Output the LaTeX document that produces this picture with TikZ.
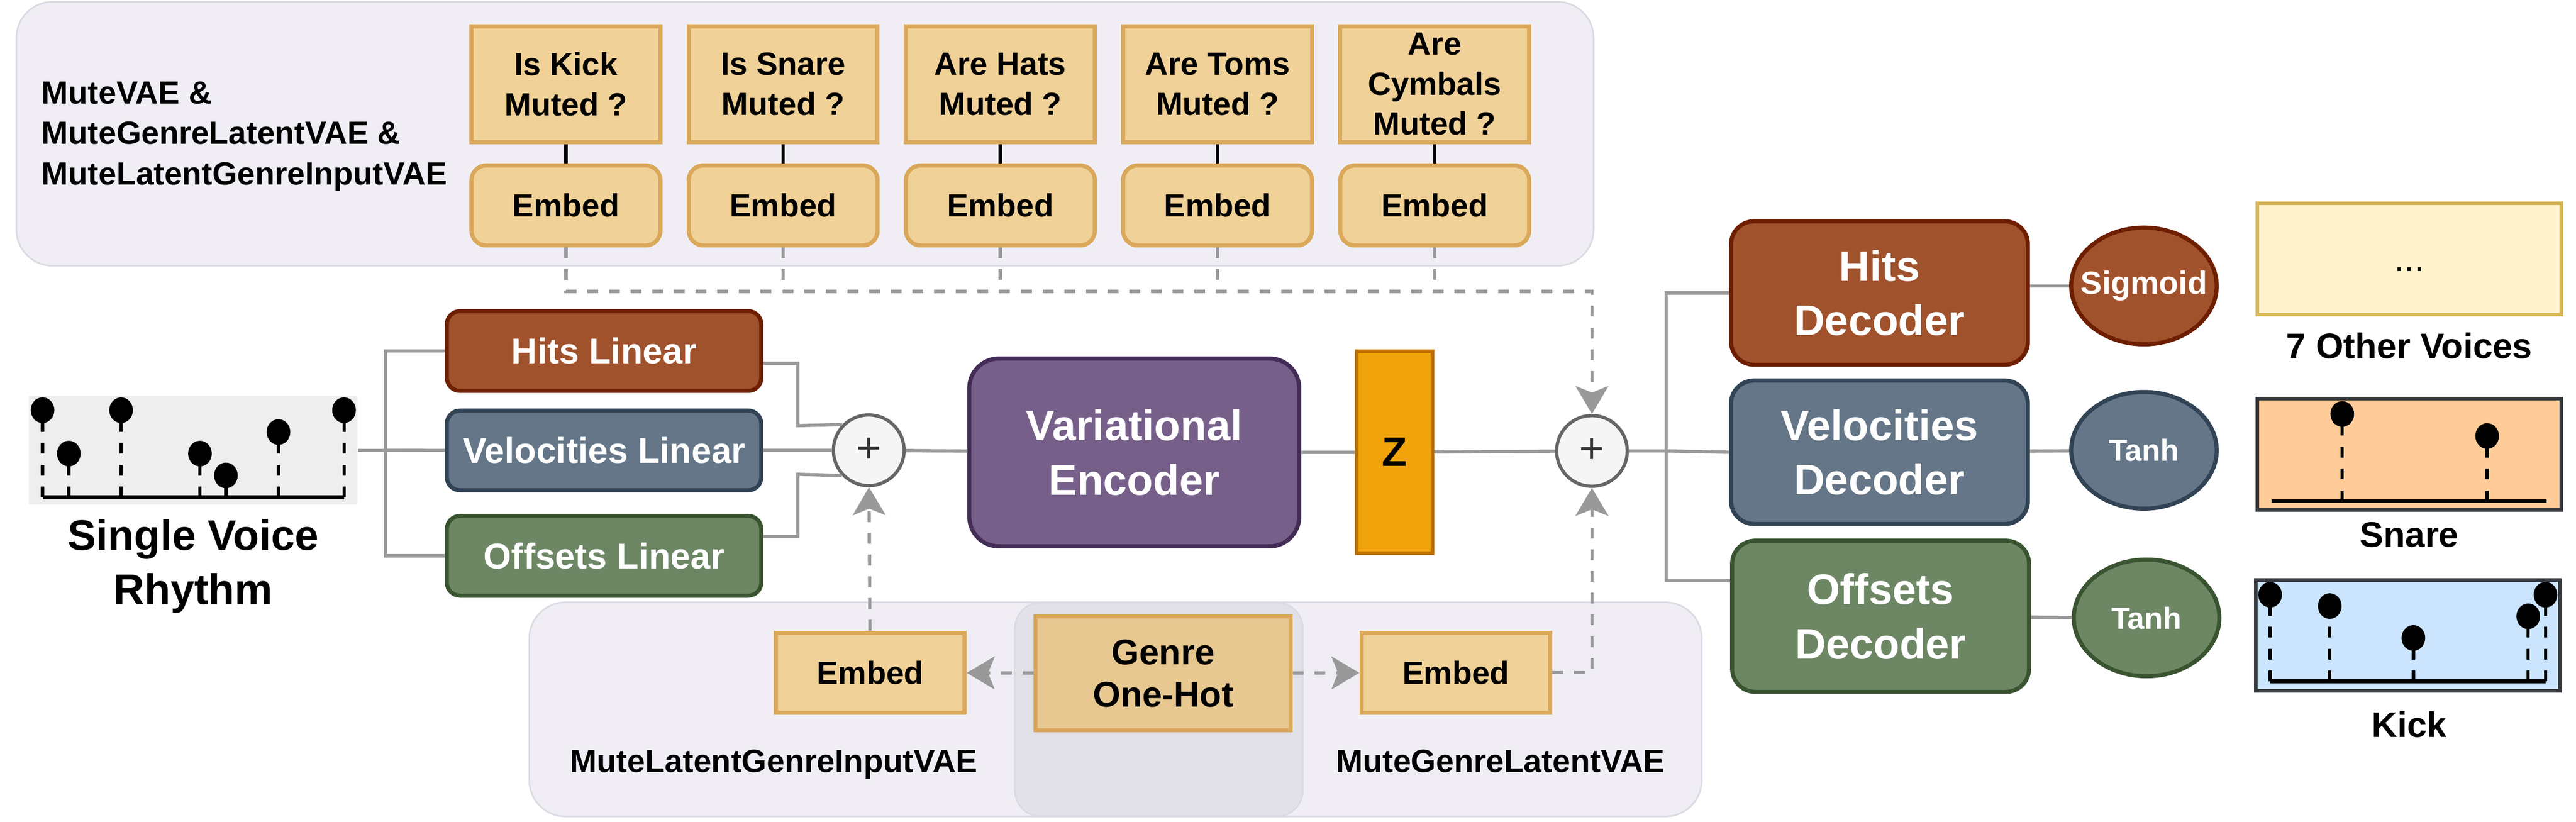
\documentclass[tikz,border=0pt]{standalone}
\usepackage{fontspec}
\setmainfont{Liberation Sans}
\usetikzlibrary{arrows.meta,shapes.geometric}
\definecolor{hitsfill}{HTML}{A0522D}
\definecolor{hitsline}{HTML}{6D1F00}
\definecolor{velfill}{HTML}{647687}
\definecolor{velline}{HTML}{314354}
\definecolor{offfill}{HTML}{6D8764}
\definecolor{offline}{HTML}{3A5431}
\definecolor{encfill}{HTML}{76608A}
\definecolor{encline}{HTML}{432D57}
\definecolor{zfill}{HTML}{F0A30A}
\definecolor{zline}{HTML}{BD7000}
\definecolor{embfill}{HTML}{F0D197}
\definecolor{embline}{HTML}{DAA85A}
\definecolor{genrefill}{HTML}{E8C891}
\definecolor{panelfill}{HTML}{F0EEF4}
\definecolor{panelline}{HTML}{DCDAE2}
\definecolor{colfill}{HTML}{E3E1E8}
\definecolor{connline}{HTML}{999999}
\definecolor{sumfill}{HTML}{F5F5F5}
\definecolor{sumline}{HTML}{666666}
\definecolor{sumtext}{HTML}{333333}
\definecolor{otherfill}{HTML}{FFF2CC}
\definecolor{otherline}{HTML}{D6B656}
\definecolor{snarefill}{HTML}{FFCC99}
\definecolor{kickfill}{HTML}{CCE5FF}
\definecolor{voiceline}{HTML}{36393D}
\definecolor{rhythmfill}{HTML}{EEEEEE}
\newcommand{\setfs}[2]{\fontsize{#1}{#2}\selectfont\bfseries}

\begin{document}
\begin{tikzpicture}[x=1pt, y=-1pt,
    every node/.style={inner sep=0pt, align=center},
    conn/.style={draw=connline, line width=2pt},
    dashln/.style={draw=connline, line width=2pt, dash pattern=on 6.6pt off 6.6pt},
    arrowhd/.style={-{Stealth[length=17pt,width=20pt,inset=4pt]}},
    stemln/.style={line width=2pt, dash pattern=on 6.6pt off 6.7pt},
    question/.style={draw=embline, fill=embfill, line width=2.5pt, minimum width=115pt, minimum height=70.7pt, font=\setfs{19.5}{24.3}},
    embedtop/.style={question, rounded corners=9pt, minimum height=48.7pt},
    embedbot/.style={question, minimum height=48.7pt},
    linear/.style={line width=2.5pt, rounded corners=8pt, minimum width=191.4pt, minimum height=48.5pt, text=white, font=\setfs{21.8}{26}},
    decoder/.style={line width=2.5pt, rounded corners=14pt, minimum width=180.7pt, minimum height=87.3pt, text=white, font=\setfs{26}{33}},
    act/.style={ellipse, line width=2.5pt, inner xsep=-18pt, inner ysep=-6pt, minimum width=88.6pt, minimum height=71pt, text=white, font=\setfs{19.5}{24}},
    sumnode/.style={circle, draw=sumline, fill=sumfill, line width=2pt, minimum size=43pt, text=sumtext, font=\fontsize{26}{30}\selectfont},
    voice/.style={line width=2.2pt, minimum width=185pt, minimum height=67.6pt},
    txt/.style={font=\setfs{21.6}{26}}]
    \useasboundingbox (0,0) rectangle (1568,500);
    % panels
    \filldraw[fill=panelfill, draw=panelline, line width=1pt, rounded corners=22pt] (10,1.1) rectangle (970,161.7);
    \filldraw[fill=panelfill, draw=panelline, line width=1pt, rounded corners=22pt] (322.2,366.5) rectangle (1035.8,496.8);
    \filldraw[fill=colfill, draw=panelline, line width=1pt, rounded corners=16pt] (617.7,366.6) rectangle (793,496.8);
    % mute flags
    \node[anchor=north west, align=left, font=\setfs{19.5}{24.5}] (mutelbl) at (25.2,49.6) {MuteVAE \&\\MuteGenreLatentVAE \&\\MuteLatentGenreInputVAE};
    \coordinate (bus) at (969,177.3);
    \foreach \q [count=\i] in {{Is Kick\\Muted ?},{Is Snare\\Muted ?},{Are Hats\\Muted ?},{Are Toms\\Muted ?},{Are\\Cymbals\\Muted ?}}{
        \node[question] (mute\i) at ({344.5+132.2*(\i-1)},51.2) {\q};
        \node[embedtop] (emb\i) at ({344.5+132.2*(\i-1)},125) {Embed};
        \draw[line width=2pt] (mute\i) -- (emb\i);
        \draw[dashln] (emb\i.south) -- (emb\i.south |- bus);
    }
    % single voice rhythm
    \node[fill=rhythmfill, minimum width=200.2pt, minimum height=66pt] (rhythm) at (117.6,274) {};
    \draw[line width=2.4pt] (25.9,302.7) -- (209.4,302.7);
    \foreach \x/\y in {25.9/249.6, 41.9/276, 73.7/249.6, 121.7/276, 137.5/289.3, 169.5/262.9, 209.4/249.6}{
        \draw[stemln] (\x,302.7) -- (\x,\y);
        \fill (\x,\y) ellipse [x radius=7.2pt, y radius=7.8pt];
    }
    \node[font=\setfs{26}{33}, anchor=north] (rhythmlbl) at (117.6,315.8) {Single Voice\\Rhythm};
    % encoder side
    \node[linear, draw=hitsline, fill=hitsfill] (hitsLin) at (367.7,213.6) {Hits Linear};
    \node[linear, draw=velline, fill=velfill] (velLin) at (367.7,274.1) {Velocities Linear};
    \node[linear, draw=offline, fill=offfill] (offLin) at (367.7,338.2) {Offsets Linear};
    \node[sumnode] (sumIn) at (528.8,274) {+};
    \node[draw=encline, fill=encfill, line width=2.5pt, rounded corners=18pt, minimum width=200.8pt, minimum height=114.3pt, text=white, font=\setfs{26}{33}] (enc) at (690.4,275.3) {Variational\\Encoder};
    \node[draw=zline, fill=zfill, line width=2pt, minimum width=46.2pt, minimum height=123pt, font=\setfs{25}{30}] (z) at (848.9,275.2) {Z};
    \node[sumnode] (sumOut) at (969,274.4) {+};
    % decoder side
    \node[decoder, draw=hitsline, fill=hitsfill] (hitsDec) at (1144,178.3) {Hits\\Decoder};
    \node[decoder, draw=velline, fill=velfill] (velDec) at (1144,275.2) {Velocities\\Decoder};
    \node[decoder, draw=offline, fill=offfill, minimum height=92pt] (offDec) at (1144.7,375) {Offsets\\Decoder};
    \node[act, draw=hitsline, fill=hitsfill] (sig) at (1305,174) {Sigmoid};
    \node[act, draw=velline, fill=velfill, font=\setfs{18.5}{24}] (tanhV) at (1305,274) {Tanh};
    \node[act, draw=offline, fill=offfill, font=\setfs{18.5}{24}] (tanhO) at (1306.6,376) {Tanh};
    % voices
    \node[voice, draw=otherline, fill=otherfill] (other) at (1466.5,157.5) {};
    \node[anchor=base, font=\fontsize{22}{26}\selectfont] (dots) at (1466.5,165) {...};
    \node[txt] (otherlbl) at (1466.5,210.5) {7 Other Voices};
    \node[voice, draw=voiceline, fill=snarefill] (snare) at (1466.5,276.4) {};
    \draw[line width=2.4pt] (1382.6,305) -- (1550.2,305);
    \foreach \x/\y in {1425.7/251.9, 1513.9/265.3}{
        \draw[stemln] (\x,305) -- (\x,\y);
        \fill (\x,\y) ellipse [x radius=7.2pt, y radius=7.8pt];
    }
    \node[txt] (snarelbl) at (1466.5,325.4) {Snare};
    \node[voice, draw=voiceline, fill=kickfill] (kick) at (1465.6,386.6) {};
    \draw[line width=2.4pt] (1381.8,414.6) -- (1549.4,414.6);
    \foreach \x/\y in {1381.8/361.9, 1418.1/368.8, 1469/388.2, 1538.9/375, 1549.4/361.9}{
        \draw[stemln] (\x,414.6) -- (\x,\y);
        \fill (\x,\y) ellipse [x radius=7.2pt, y radius=7.8pt];
    }
    \node[txt] (kicklbl) at (1466.5,441) {Kick};
    % genre
    \node[embedbot] (embL) at (529.7,409.3) {Embed};
    \node[embedbot] (embR) at (886.2,409.3) {Embed};
    \node[question, fill=genrefill, minimum width=155.3pt, minimum height=69.2pt, font=\setfs{21.7}{25.7}] (genre) at (708,409.7) {Genre\\One-Hot};
    \node[anchor=base, font=\setfs{19.6}{24}] (latInLbl) at (471,469.9) {MuteLatentGenreInputVAE};
    \node[anchor=base, font=\setfs{19.6}{24}] (genLatLbl) at (913.2,469.9) {MuteGenreLatentVAE};
    % connectors
    \coordinate (splitL) at (234.5,274);
    \draw[conn] (rhythm.east) -- (splitL) |- (hitsLin.west);
    \draw[conn] (splitL) |- (offLin.west);
    \draw[conn] (splitL) -- (velLin.west);
    \draw[conn] ([yshift=-7.4pt]hitsLin.east) -| (485.6,259) -- (sumIn.136);
    \draw[conn] ([yshift=11.7pt]offLin.east) -| (485.6,288.6) -- (sumIn.223);
    \draw[conn] (velLin) -- (sumIn);
    \draw[conn] (sumIn) -- (enc);
    \draw[conn] (enc) -- (z);
    \draw[conn] (z) -- (sumOut);
    \coordinate (splitR) at (1014.2,274.4);
    \draw[conn] (sumOut) -- (splitR) |- (hitsDec.west);
    \draw[conn] (splitR) -- (velDec.west);
    \draw[conn] (splitR) |- ([yshift=21.6pt]offDec.west);
    \draw[conn] (sig.west -| hitsDec.east) -- (sig.west);
    \draw[conn] (velDec) -- (tanhV);
    \draw[conn] (offDec) -- (tanhO);
    % conditioning
    \draw[dashln, arrowhd] (emb1.south) |- (bus) -- (sumOut.north);
    \draw[dashln, arrowhd] (embL) -- (sumIn);
    \draw[dashln, arrowhd] (embR.east) -| (sumOut.south);
    \draw[dashln, arrowhd] (genre) -- (embL);
    \draw[dashln, arrowhd] (genre) -- (embR);
\end{tikzpicture}
\end{document}
